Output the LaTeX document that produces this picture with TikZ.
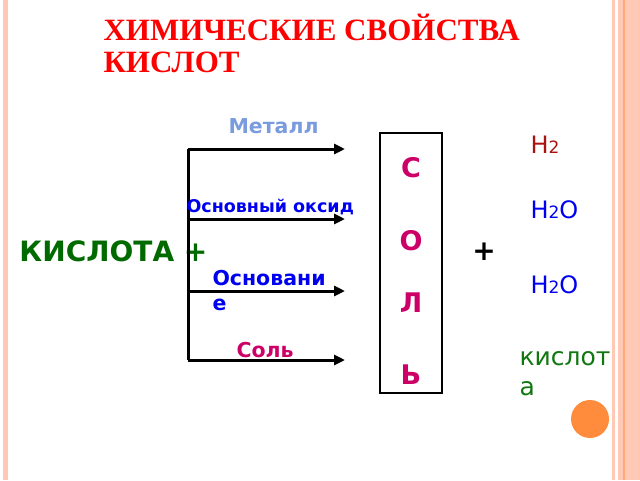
\documentclass[tikz,border=0pt]{standalone}
\usepackage{fontspec}
\setmainfont{DejaVu Sans}
\newfontfamily\titlefont{Liberation Serif}
\usetikzlibrary{arrows.meta}

\definecolor{titlered}{HTML}{FF0000}
\definecolor{metalblue}{HTML}{7B9BDF}
\definecolor{oxblue}{HTML}{0000F0}
\definecolor{acidgreen}{HTML}{006A00}
\definecolor{saltred}{HTML}{CC0066}
\definecolor{hydrored}{HTML}{AA1111}
\definecolor{leafgreen}{HTML}{117711}
\definecolor{peach}{HTML}{FFC9B5}
\definecolor{peachdark}{HTML}{FFA878}
\definecolor{dotorange}{HTML}{FF8C3C}

\begin{document}
\begin{tikzpicture}[> = {Triangle[length=11pt,width=10pt]}, % arrow head style
                x = 1pt, y = -1pt, % pixel units, y downwards
                line width = 3pt % line style
            ]

            \tikzstyle{every node}=[inner sep = 0pt, anchor = base west]
            \tikzstyle{arrowtext}=[font = \bfseries\fontsize{20.5}{25}\selectfont,
            align = left]
            \tikzstyle{chem}=[font = \fontsize{24}{30}\selectfont, align = left]
            \tikzstyle{saltletter}=[font = \bfseries\fontsize{27}{30}\selectfont,
            text = saltred, anchor = base]

            \useasboundingbox (0,0) rectangle (640,480);

            % slide frame
            \fill[peach] (3,0) rectangle (7.5,480);
            \fill[peach] (612,0) rectangle (614.5,480);
            \fill[peach] (618,0) rectangle (640,480);
            \fill[peachdark] (623,0) rectangle (625,480);
            \fill[dotorange] (590,419) circle (19);

            % title
            \node[font = \titlefont\bfseries\fontsize{31}{32}\selectfont,
            text = titlered] (t1) at (102,40) {ХИМИЧЕСКИЕ СВОЙСТВА};
            \node[font = \titlefont\bfseries\fontsize{31}{32}\selectfont,
            text = titlered] (t2) at (102,72) {КИСЛОТ};

            % left side
            \node[font = \bfseries\fontsize{28}{30}\selectfont, text = acidgreen]
            (acid) at (18,261) {КИСЛОТА +};

            \coordinate (m1) at (188,149); \coordinate (e1) at (345,149);
            \coordinate (m2) at (188,219); \coordinate (e2) at (345,219);
            \coordinate (m3) at (188,291); \coordinate (e3) at (345,291);
            \coordinate (m4) at (188,360); \coordinate (e4) at (345,360);

            \draw (m1) -- (m4);
            \path[->] (m1) edge (e1); \path[->] (m2) edge (e2); \path[->] (m3)
            edge (e3); \path[->] (m4) edge (e4);

            \node[arrowtext, text = metalblue] (metal) at (227,133) {Металл};
            \node[arrowtext, text = oxblue, font = \bfseries\fontsize{17.5}{20}\selectfont]
            (oxide) at (185,212) {Основный оксид};
            \node[arrowtext, text = oxblue] (base) at (211,310) {Основани\\е};
            \node[arrowtext, text = saltred] (salt) at (235,357) {Соль};

            % product box
            \node[draw = black, line width = 1.5pt, anchor = center, minimum
            width = 62pt, minimum height = 260pt] (sol) at (411,263) {};
            \foreach \l/\y in {С/177, О/250, Л/312, Ь/384}
                \node[saltletter] at (411,\y) {\l};

            % right side
            \node[font = \bfseries\fontsize{28}{30}\selectfont, anchor = center]
            (plus) at (484,252) {+};
            \node[chem, text = hydrored] (h2) at (529,153)
            {H{\fontsize{17}{20}\selectfont 2}};
            \node[chem, text = oxblue] (w1) at (529,218)
            {H{\fontsize{17}{20}\selectfont 2}O};
            \node[chem, text = oxblue] (w2) at (529,293)
            {H{\fontsize{17}{20}\selectfont 2}O};
            \node[font = \fontsize{25}{30}\selectfont, text = leafgreen, align =
            left] (newacid) at (518,395) {кислот\\а};
\end{tikzpicture}
\end{document}
